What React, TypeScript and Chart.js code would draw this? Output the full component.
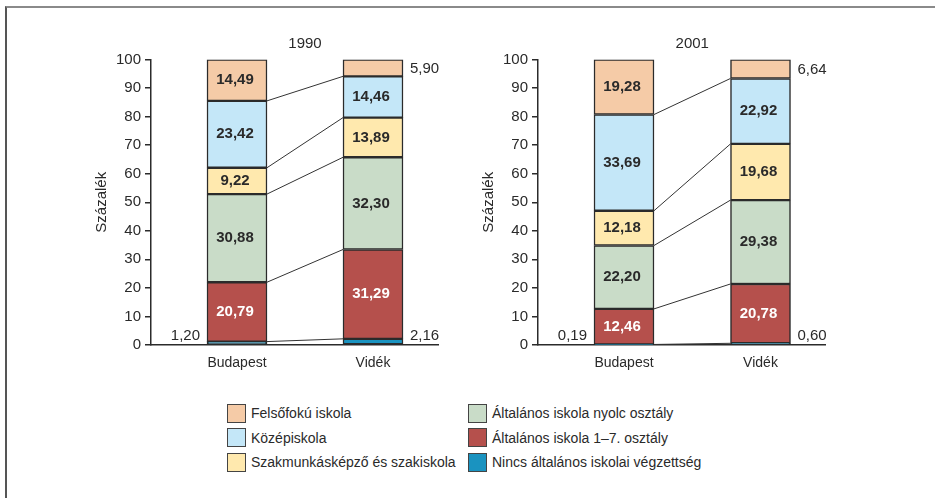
import React, { useEffect, useRef } from "react";
import { Chart, registerables } from "chart.js";

Chart.register(...registerables);

const categories = ["Budapest", "Vidék"];
const seriesNames = [
  "Nincs általános iskolai végzettség",
  "Általános iskola 1–7. osztály",
  "Általános iskola nyolc osztály",
  "Szakmunkásképző és szakiskola",
  "Középiskola",
  "Felsőfokú iskola",
];
const seriesColors = ["#1A93C0", "#B5504C", "#C9DCC8", "#FFE9AE", "#C4E7F8", "#F5CBA7"];
const labelColors = ["#2a2a2a", "#ffffff", "#2a2a2a", "#2a2a2a", "#2a2a2a", "#2a2a2a"];

// values [Budapest, Vidék] per series (bottom to top)
const values1990 = [
  [1.2, 2.16],
  [20.79, 31.29],
  [30.88, 32.3],
  [9.22, 13.89],
  [23.42, 14.46],
  [14.49, 5.9],
];
const values2001 = [
  [0.19, 0.6],
  [12.46, 20.78],
  [22.2, 29.38],
  [12.18, 19.68],
  [33.69, 22.92],
  [19.28, 6.64],
];
const yTicks = [0, 10, 20, 30, 40, 50, 60, 70, 80, 90, 100];
const legendCol1 = [5, 4, 3];
const legendCol2 = [2, 1, 0];

const FONT = "'Liberation Sans', Arial, sans-serif";

function fmt(v: number) {
  return v.toFixed(2).replace(".", ",");
}

function Panel({ title, values, left, xMin, xMax }: { title: string; values: number[][]; left: number; xMin: number; xMax: number }) {
  const ref = useRef<HTMLCanvasElement | null>(null);
  useEffect(() => {
    if (!ref.current) return;
    const overlay = {
      id: "overlay",
      afterDatasetsDraw(chart: any) {
        const ctx = chart.ctx;
        const xs = chart.scales.x;
        const ys = chart.scales.y;
        const half = 30;
        ctx.save();
        // connecting lines
        ctx.strokeStyle = "#333";
        ctx.lineWidth = 1;
        let c0 = 0, c1 = 0;
        for (let k = 0; k < values.length - 1; k++) {
          c0 += values[k][0];
          c1 += values[k][1];
          ctx.beginPath();
          ctx.moveTo(xs.getPixelForValue(1) + half, ys.getPixelForValue(c0));
          ctx.lineTo(xs.getPixelForValue(2) - half, ys.getPixelForValue(c1));
          ctx.stroke();
        }
        // labels
        for (let j = 0; j < 2; j++) {
          let base = 0;
          for (let k = 0; k < values.length; k++) {
            const v = values[k][j];
            const yMid = ys.getPixelForValue(base + v / 2);
            const cx = xs.getPixelForValue(j + 1);
            base += v;
            if (k === 0) {
              ctx.font = `15px ${FONT}`;
              ctx.fillStyle = "#2a2a2a";
              ctx.textBaseline = "middle";
              if (j === 0) {
                ctx.textAlign = "right";
                ctx.fillText(fmt(v), cx - half - 7, ys.bottom - 9);
              } else {
                ctx.textAlign = "left";
                ctx.fillText(fmt(v), cx + half + 7, ys.bottom - 9);
              }
            } else if (v < 8) {
              ctx.font = `15px ${FONT}`;
              ctx.fillStyle = "#2a2a2a";
              ctx.textAlign = "left";
              ctx.textBaseline = "middle";
              ctx.fillText(fmt(v), cx + half + 7, yMid + 1);
            } else {
              ctx.font = `bold 15px ${FONT}`;
              ctx.fillStyle = labelColors[k];
              ctx.textAlign = "center";
              ctx.textBaseline = "middle";
              ctx.fillText(fmt(v), cx - 2, yMid);
            }
          }
        }
        // title
        ctx.font = `15px ${FONT}`;
        ctx.fillStyle = "#2a2a2a";
        ctx.textAlign = "center";
        ctx.textBaseline = "middle";
        ctx.fillText(title, (xs.getPixelForValue(1) + xs.getPixelForValue(2)) / 2, ys.top - 16);
        ctx.restore();
      },
    };
    const chart = new Chart(ref.current, {
      type: "bar",
      data: {
        datasets: values.map((row, k) => ({
          label: seriesNames[k],
          data: row.map((v, j) => ({ x: j + 1, y: v })),
          backgroundColor: seriesColors[k],
          borderColor: "#2b2b2b",
          borderWidth: 1.5,
          borderSkipped: false,
          barThickness: 60,
        })),
      },
      options: {
        animation: false,
        responsive: false,
        maintainAspectRatio: false,
        layout: { padding: { left: 29, right: 30, top: 39.5, bottom: 10 } },
        plugins: { legend: { display: false }, tooltip: { enabled: false }, title: { display: false } },
        scales: {
          x: {
            type: "linear",
            stacked: true,
            offset: false,
            min: xMin,
            max: xMax,
            afterBuildTicks: (s: any) => {
              s.ticks = categories.map((_, i) => ({ value: i + 1 }));
            },
            afterFit: (s: any) => {
              s.height = 40;
            },
            grid: { display: true, offset: false, drawOnChartArea: false, drawTicks: false },
            border: { display: true, color: "#2b2b2b", width: 1.5 },
            ticks: {
              padding: 10,
              color: "#2a2a2a",
              font: { family: FONT, size: 14 },
              callback: (v: any) => categories[Number(v) - 1] ?? "",
              autoSkip: false,
              maxRotation: 0,
            },
          },
          y: {
            stacked: true,
            min: 0,
            max: 100,
            afterBuildTicks: (s: any) => {
              s.ticks = yTicks.map((v) => ({ value: v }));
            },
            afterFit: (s: any) => {
              s.width = 62;
            },
            grid: { drawOnChartArea: false, drawTicks: true, tickLength: 6, color: "#2b2b2b", lineWidth: 1.5 },
            border: { display: true, color: "#2b2b2b", width: 1.5 },
            ticks: { padding: 4, color: "#2a2a2a", font: { family: FONT, size: 15 } },
            title: { display: true, text: "Százalék", color: "#2a2a2a", font: { family: FONT, size: 15 }, padding: { top: 4, bottom: 4 } },
          },
        },
      },
      plugins: [overlay],
    } as any);
    return () => chart.destroy();
  }, []);
  return (
    <div style={{ position: "absolute", left, top: 20, width: 408, height: 375 }}>
      <canvas ref={ref} width={408} height={375} style={{ width: 408, height: 375 }} />
    </div>
  );
}

function Legend() {
  const item = (k: number) => (
    <div key={k} style={{ display: "flex", alignItems: "center", height: 24.5 }}>
      <div
        style={{
          width: 17,
          height: 17,
          background: seriesColors[k],
          border: "1px solid #444",
          marginRight: 5,
          flex: "none",
        }}
      />
      <span style={{ fontFamily: FONT, fontSize: 14, color: "#2a2a2a", whiteSpace: "nowrap" }}>{seriesNames[k]}</span>
    </div>
  );
  return (
    <>
      <div style={{ position: "absolute", left: 227, top: 401 }}>{legendCol1.map(item)}</div>
      <div style={{ position: "absolute", left: 468, top: 401 }}>{legendCol2.map(item)}</div>
    </>
  );
}

export default function App() {
  return (
    <div style={{ position: "absolute", left: 0, top: 0, width: 935, height: 498, background: "#fff", overflow: "hidden" }}>
      <div
        style={{
          position: "absolute",
          left: 5,
          top: 6,
          width: 940,
          height: 500,
          borderTop: "2px solid #8a8a8a",
          borderLeft: "2px solid #555",
        }}
      />
      <Panel title="1990" values={values1990} left={60} xMin={1 - 86 / 136} xMax={2 + 65 / 136} />
      <Panel title="2001" values={values2001} left={447} xMin={1 - 86 / 136.5} xMax={2 + 64.5 / 136.5} />
      <Legend />
    </div>
  );
}
